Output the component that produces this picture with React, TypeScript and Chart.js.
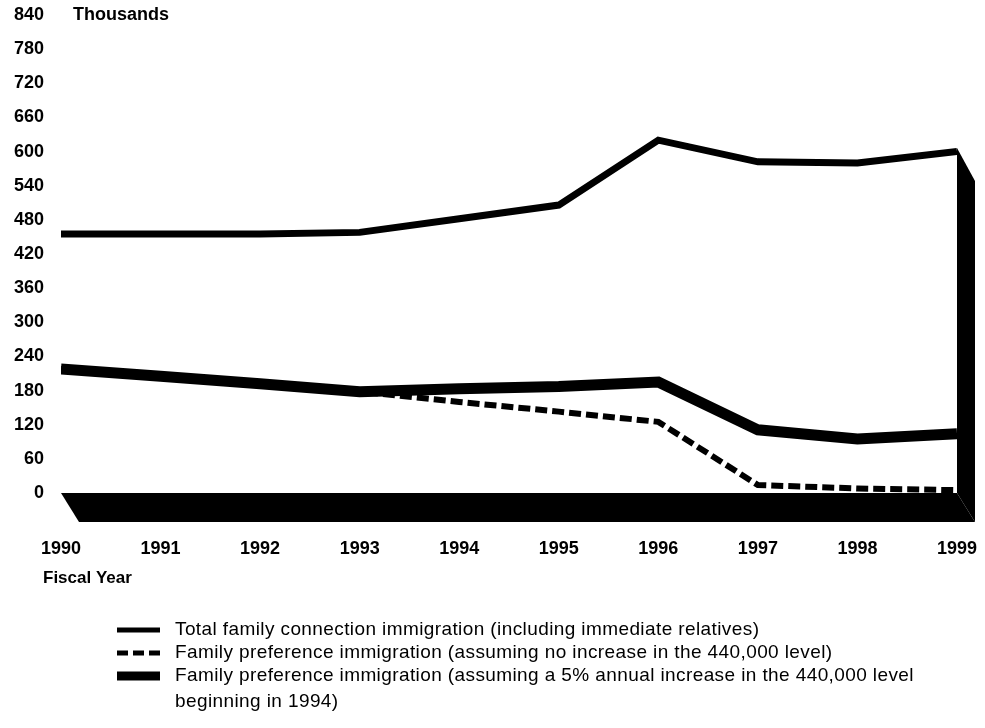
import React, { useEffect, useRef } from "react";
import { Chart, registerables } from "chart.js";

Chart.register(...registerables);

// Fiscal years on the horizontal axis
const years = [1990, 1991, 1992, 1993, 1994, 1995, 1996, 1997, 1998, 1999];

// Immigration, in thousands
const totalFamily = [455, 455, 455, 458, 482, 506, 620, 582, 580, 600];
const prefNoIncrease = [218, 205, 192, 178, 160, 143, 125, 14, 8, 5];
const prefFivePercent = [218, 205, 192, 178, 183, 187, 195, 111, 95, 104];

const yMin = 0;
const yMax = 840;
const yStep = 60;

const legendLabels = [
  "Total family connection immigration (including immediate relatives)",
  "Family preference immigration (assuming no increase in the 440,000 level)",
  "Family preference immigration (assuming a 5% annual increase in the 440,000 level",
  "beginning in 1994)",
];

const FONT = "'Liberation Sans', Arial, Helvetica, sans-serif";

const toPoints = (vals: number[]) => vals.map((v, i) => ({ x: years[i], y: v }));

// Black "floor" under the zero line and the "wall" behind the last year,
// giving the plot its pseudo-3D frame.
const framePlugin = {
  id: "frame3d",
  afterDatasetsDraw(chart: any) {
    const { ctx, scales } = chart;
    const xs = scales.x;
    const ys = scales.y;
    const dx = 18;
    const dy = 29;
    const x0 = xs.getPixelForValue(years[0]);
    const x9 = xs.getPixelForValue(years[years.length - 1]);
    const yZero = ys.getPixelForValue(0);
    const topVal = Math.max(
      totalFamily[totalFamily.length - 1],
      prefFivePercent[prefFivePercent.length - 1]
    );
    const yTop = ys.getPixelForValue(topVal) - 3.5;
    ctx.save();
    ctx.fillStyle = "#000";
    // floor
    ctx.beginPath();
    ctx.moveTo(x0, yZero);
    ctx.lineTo(x9, yZero);
    ctx.lineTo(x9 + dx, yZero + dy);
    ctx.lineTo(x0 + dx, yZero + dy);
    ctx.closePath();
    ctx.fill();
    // wall
    ctx.beginPath();
    ctx.moveTo(x9, yTop);
    ctx.lineTo(x9 + dx, yTop + dy + 4);
    ctx.lineTo(x9 + dx, yZero + dy);
    ctx.lineTo(x9, yZero);
    ctx.closePath();
    ctx.fill();
    ctx.restore();
  },
};

// Axis captions and the legend under the plot
const annotationPlugin = {
  id: "captions",
  afterDraw(chart: any) {
    const { ctx } = chart;
    ctx.save();
    ctx.fillStyle = "#000";
    ctx.textBaseline = "middle";
    ctx.textAlign = "left";
    ctx.font = `bold 18px ${FONT}`;
    ctx.fillText("Thousands", 73, chart.scales.y.getPixelForValue(yMax));
    ctx.font = `bold 17px ${FONT}`;
    ctx.fillText("Fiscal Year", 43, 578);

    const swX1 = 117;
    const swX2 = 160;
    const textX = 175;
    const rows = [630, 653, 676, 702];

    ctx.strokeStyle = "#000";
    ctx.lineCap = "butt";
    // solid
    ctx.lineWidth = 5;
    ctx.setLineDash([]);
    ctx.beginPath();
    ctx.moveTo(swX1, rows[0]);
    ctx.lineTo(swX2, rows[0]);
    ctx.stroke();
    // dashed
    ctx.setLineDash([11, 5]);
    ctx.beginPath();
    ctx.moveTo(swX1, rows[1]);
    ctx.lineTo(swX2, rows[1]);
    ctx.stroke();
    // thick
    ctx.setLineDash([]);
    ctx.lineWidth = 9;
    ctx.beginPath();
    ctx.moveTo(swX1, rows[2]);
    ctx.lineTo(swX2, rows[2]);
    ctx.stroke();

    ctx.font = `19px ${FONT}`;
    (ctx as any).letterSpacing = "0.4px";
    legendLabels.forEach((t, i) => ctx.fillText(t, textX, rows[i]));
    ctx.restore();
  },
};

export default function App() {
  const ref = useRef<HTMLCanvasElement | null>(null);

  useEffect(() => {
    if (!ref.current) return;
    const chart = new Chart(ref.current, {
      type: "line",
      data: {
        datasets: [
          {
            label: legendLabels[0],
            data: toPoints(totalFamily),
            borderColor: "#000",
            borderWidth: 7,
            pointRadius: 0,
            tension: 0,
            borderJoinStyle: "miter",
            borderCapStyle: "butt",
          },
          {
            label: legendLabels[2],
            data: toPoints(prefFivePercent),
            borderColor: "#000",
            borderWidth: 11,
            pointRadius: 0,
            tension: 0,
            borderJoinStyle: "miter",
            borderCapStyle: "butt",
          },
          {
            label: legendLabels[1],
            data: toPoints(prefNoIncrease),
            borderColor: "#000",
            borderWidth: 6,
            borderDash: [12, 5],
            pointRadius: 0,
            tension: 0,
            borderJoinStyle: "miter",
            borderCapStyle: "butt",
          },
        ],
      },
      options: {
        responsive: false,
        animation: false,
        layout: { padding: { top: 15, right: 28, left: 0, bottom: 0 } },
        plugins: {
          legend: { display: false },
          tooltip: { enabled: false },
          title: { display: false },
        },
        scales: {
          x: {
            type: "linear",
            min: years[0],
            max: years[years.length - 1],
            grid: { display: false, drawTicks: false },
            border: { display: false },
            ticks: {
              stepSize: 1,
              color: "#000",
              padding: 45,
              maxRotation: 0,
              font: { family: FONT, size: 18, weight: "bold" },
              callback: (v: any) => String(v),
            },
            afterFit: (s: any) => {
              s.height = 235;
              s.paddingLeft = 0;
              s.paddingRight = 0;
            },
          },
          y: {
            type: "linear",
            min: yMin,
            max: yMax,
            grid: { display: false, drawTicks: false },
            border: { display: false },
            ticks: {
              stepSize: yStep,
              color: "#000",
              padding: 17,
              font: { family: FONT, size: 18, weight: "bold" },
            },
            afterFit: (s: any) => {
              s.width = 61;
              s.paddingTop = 0;
              s.paddingBottom = 0;
            },
          },
        },
      },
      plugins: [framePlugin, annotationPlugin],
    });
    return () => chart.destroy();
  }, []);

  return (
    <div style={{ position: "fixed", left: 0, top: 0, width: 985, height: 728, background: "#fff" }}>
      <canvas ref={ref} width={985} height={728} />
    </div>
  );
}
